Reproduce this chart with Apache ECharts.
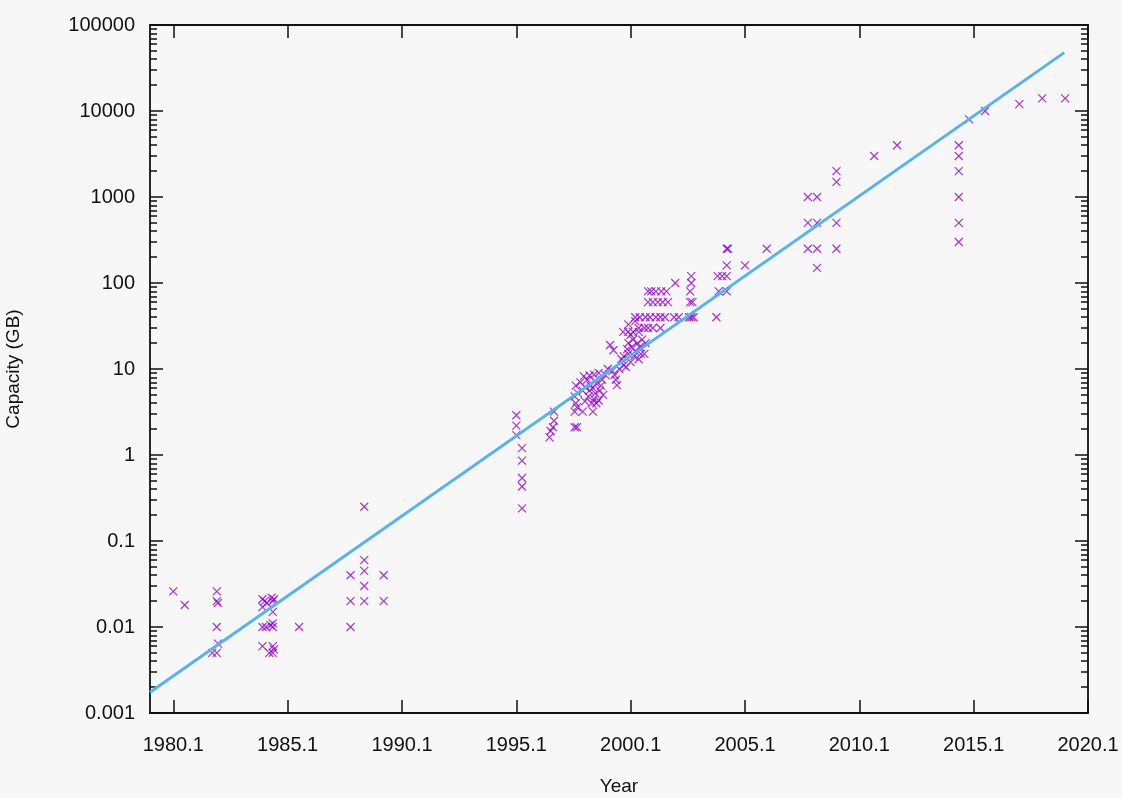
<!DOCTYPE html>
<html>
<head>
<meta charset="utf-8">
<script src="https://cdn.jsdelivr.net/npm/echarts@6/dist/echarts.min.js"></script>
<style>
html,body{margin:0;padding:0;background:#f7f7f7;}
#chart{width:1122px;height:798px;}
</style>
</head>
<body>
<div id="chart"></div>
<script>
// ---- data ----
const xTickLabels = [1980.1, 1985.1, 1990.1, 1995.1, 2000.1, 2005.1, 2010.1, 2015.1, 2020.1];
const yTickLabels = [0.001, 0.01, 0.1, 1, 10, 100, 1000, 10000, 100000];

const early = [
  [1980.1,0.026],[1980.6,0.018],
  [1982.0,0.026],[1982.0,0.02],[1982.05,0.019],[1982.0,0.01],[1982.05,0.0064],[1981.8,0.005],[1982.0,0.005],
  [1984.0,0.021],[1984.1,0.02],[1984.2,0.019],[1984.4,0.022],[1984.45,0.02],[1984.5,0.021],[1984.0,0.017],[1984.45,0.015],
  [1984.0,0.01],[1984.15,0.01],[1984.35,0.0105],[1984.45,0.01],[1984.45,0.011],
  [1984.0,0.006],[1984.45,0.006],[1984.3,0.005],[1984.45,0.005],[1984.5,0.0055],
  [1985.6,0.01],
  [1987.85,0.04],[1987.85,0.02],[1987.85,0.01],
  [1988.45,0.25],[1988.45,0.06],[1988.45,0.045],[1988.45,0.03],[1988.45,0.02],
  [1989.3,0.04],[1989.3,0.02]
];
const mid90s = [
  [1995.1,2.9],[1995.1,2.2],[1995.1,1.7],
  [1995.35,1.2],[1995.35,0.86],[1995.35,0.54],[1995.35,0.43],[1995.35,0.24],
  [1996.75,3.2],[1996.75,2.5],[1996.7,2.1],[1996.6,1.9],[1996.55,1.6]
];
const late90s = [
  [1997.65,2.1],[1997.75,2.1],
  [1997.65,3.2],[1997.75,3.6],[1997.7,4.0],[1997.65,4.8],[1997.8,5.2],[1997.7,6.4],[1997.9,7.0],
  [1998.0,3.2],[1998.1,4.2],[1998.0,5.6],[1998.1,6.2],[1998.05,8.2],[1998.2,7.5],[1998.25,4.8],[1998.3,5.6],[1998.35,6.4],[1998.3,8.4],
  [1998.45,3.2],[1998.5,4.5],[1998.55,5.2],[1998.45,6.0],[1998.6,6.8],[1998.5,8.6],[1998.7,4.3],[1998.75,5.6],[1998.8,6.4],[1998.85,7.5],[1998.7,9.0],
  [1998.4,4.0],[1998.6,4.0],[1998.9,5.0],
  [1999.0,8.5],[1999.1,10],[1999.2,19],[1999.35,16.5],[1999.3,9.5],[1999.4,8.5],[1999.5,6.5],[1999.45,7.5],[1999.6,10],
  [1999.7,13],[1999.8,14],[1999.8,11],[1999.9,10.5],[1999.95,17]
];
const y2000s = [
  [2000.0,20],[2000.0,15],[2000.1,12],[2000.1,25],[2000.15,18],[2000.2,22],[2000.25,14],[2000.3,16],[2000.4,20],
  [2000.45,13],[2000.5,18],[2000.55,15],[2000.6,22],[2000.7,15],[2000.75,20],
  [1999.77,27],[1999.99,27],[2000.2,27],[2000.45,27],[2000.0,33],[2000.3,36],
  [2000.45,30],[2000.7,30],[2000.86,30],[2001.07,30],[2001.4,30],
  [2000.3,40],[2000.5,40],[2000.75,40],[2000.95,40],[2001.2,40],[2001.4,40],[2001.6,40],[2002.0,40],[2002.2,40],
  [2000.86,60],[2001.07,60],[2001.29,60],[2001.5,60],[2001.73,60],
  [2000.86,80],[2001.0,80],[2001.2,80],[2001.44,80],[2001.66,80],
  [2002.05,100],
  [2002.75,120],[2002.75,100],[2002.7,80],[2002.8,60],[2002.7,60],[2002.65,40],[2002.75,40],[2002.85,40],
  [2003.85,40],[2003.9,120],[2004.1,120],[2004.3,120],[2003.95,80],[2004.3,80],
  [2004.3,250],[2004.35,250],[2004.3,160],[2005.1,160],[2006.05,250]
];
const recent = [
  [2007.85,1000],[2008.25,1000],[2007.85,500],[2008.25,500],[2009.1,500],
  [2007.85,250],[2008.25,250],[2009.1,250],[2008.25,150],[2009.1,2000],[2009.1,1500],
  [2010.75,3000],[2011.75,4000],
  [2014.45,4000],[2014.45,3000],[2014.45,2000],[2014.45,1000],[2014.45,500],[2014.45,300],
  [2014.9,8000],[2015.6,10000],[2017.1,12000],[2018.1,14000],[2019.1,14000]
];
// fitted trend line endpoints
const fitLine = [[1979.08,0.00174],[2019.06,47750]];

// minor tick positions (log10 space) for 2..9 per decade
const minorLog = [];
for (let e = -3; e < 5; e++) for (let k = 2; k <= 9; k++) minorLog.push(e + Math.log10(k));

const points = [].concat(early, mid90s, late90s, y2000s, recent);

const FONT = '"Liberation Sans", Arial, sans-serif';
const INK = '#111111';
const lineS = {color: INK, width: 1.8};
const tickS = {color: INK, width: 1.5};

const chart = echarts.init(document.getElementById('chart'));
chart.setOption({
  backgroundColor: '#f7f7f7',
  animation: false,
  textStyle: {fontFamily: FONT},
  grid: {left: 150, right: 34, top: 25, bottom: 85, containLabel: false, outerBoundsMode: 'none'},
  xAxis: [
    {
      type: 'value', min: 1979.08, max: 2020.1, position: 'bottom',
      name: 'Year', nameLocation: 'middle', nameGap: 64,
      nameTextStyle: {fontSize: 19, color: INK, fontFamily: FONT},
      axisLine: {show: true, onZero: false, lineStyle: lineS},
      axisTick: {show: true, inside: true, length: 13, customValues: xTickLabels, lineStyle: tickS},
      axisLabel: {show: true, customValues: xTickLabels, margin: 22, fontSize: 20, color: INK, fontFamily: FONT,
        formatter: v => Number(v).toFixed(1)},
      splitLine: {show: false}
    },
    {
      type: 'value', min: 1979.08, max: 2020.1, position: 'top',
      axisLine: {show: true, onZero: false, lineStyle: lineS},
      axisTick: {show: true, inside: true, length: 13, customValues: xTickLabels, lineStyle: tickS},
      axisLabel: {show: false},
      splitLine: {show: false}
    }
  ],
  yAxis: [
    {
      type: 'log', logBase: 10, min: 0.001, max: 100000, interval: 1, position: 'left',
      name: 'Capacity (GB)', nameLocation: 'middle', nameRotate: 90, nameGap: 127,
      nameTextStyle: {fontSize: 19, color: INK, fontFamily: FONT},
      axisLine: {show: true, onZero: false, lineStyle: lineS},
      axisTick: {show: true, inside: true, length: 13, lineStyle: tickS},
      axisLabel: {show: true, margin: 15, fontSize: 20, color: INK, fontFamily: FONT,
        formatter: v => String(+Number(v).toPrecision(6))},
      splitLine: {show: false}
    },
    {
      type: 'value', min: -3, max: 5, position: 'left',
      axisLine: {show: false, onZero: false},
      axisTick: {show: true, inside: true, length: 7, customValues: minorLog, lineStyle: tickS},
      axisLabel: {show: false},
      splitLine: {show: false}
    },
    {
      type: 'log', logBase: 10, min: 0.001, max: 100000, interval: 1, position: 'right',
      axisLine: {show: true, onZero: false, lineStyle: lineS},
      axisTick: {show: true, inside: true, length: 13, lineStyle: tickS},
      axisLabel: {show: false},
      splitLine: {show: false}
    },
    {
      type: 'value', min: -3, max: 5, position: 'right',
      axisLine: {show: false, onZero: false},
      axisTick: {show: true, inside: true, length: 7, customValues: minorLog, lineStyle: tickS},
      axisLabel: {show: false},
      splitLine: {show: false}
    }
  ],
  series: [
    {
      type: 'scatter', xAxisIndex: 0, yAxisIndex: 0,
      data: points,
      symbol: 'path://M0,0L10,10M10,0L0,10',
      symbolSize: 8,
      itemStyle: {color: 'rgba(0,0,0,0)', borderColor: '#9400d3', borderWidth: 1.2},
      emphasis: {disabled: true}
    },
    {
      type: 'line', xAxisIndex: 0, yAxisIndex: 0,
      data: fitLine,
      showSymbol: false, symbol: 'none',
      lineStyle: {color: '#56b4e9', width: 3},
      emphasis: {disabled: true}
    }
  ]
});
</script>
</body>
</html>
